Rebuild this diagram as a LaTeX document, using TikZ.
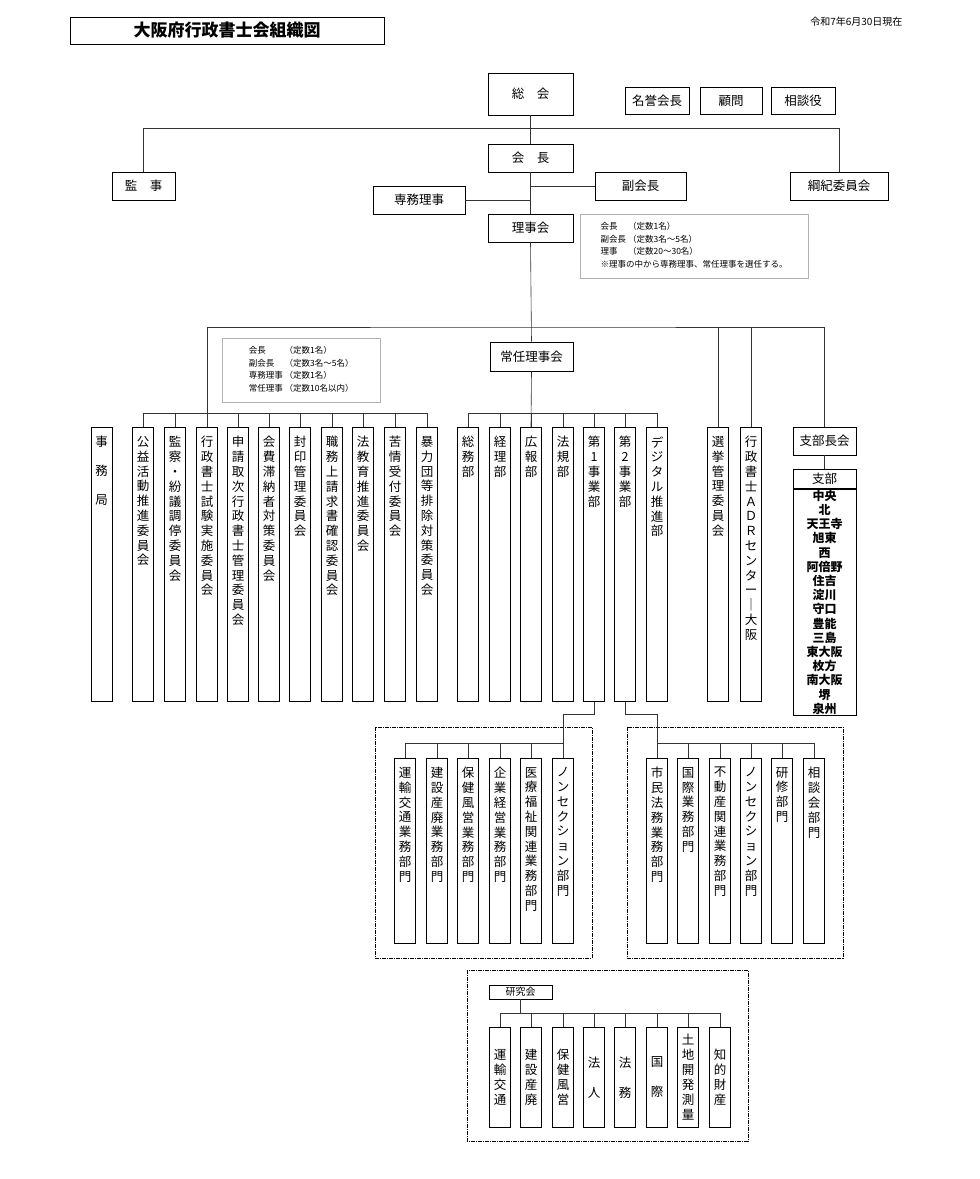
\documentclass[tikz,border=0pt]{standalone}
\usepackage{fontspec}
\setmainfont{Noto Sans CJK JP}
\usetikzlibrary{positioning}
\makeatletter
% vertical text, one character per line
\newcommand\vtext[2]{\edef\vt@s{#2}\def\vt@go{\@tfor\ch:=}%
  \vbox{\baselineskip=#1pt\lineskip=0pt\lineskiplimit=-20pt
    \expandafter\vt@go\vt@s\do{\hbox to 14pt{\hss\ch\hss}}}}
\makeatother
\newcommand\vcol[2]{\vbox to #1pt{\vskip 9pt\vtext{14.8}{#2}\vfill}}
\tikzset{
  box/.style={draw, line width=0.7pt, inner sep=0pt, minimum height=28,
    font=\fontsize{12.5}{14}\selectfont},
  col/.style={draw, line width=0.7pt, inner sep=0pt, minimum width=21,
    anchor=north, font=\fontsize{12.5}{15}\selectfont},
  note/.style={draw=black!30, inner sep=5pt, anchor=north west, align=left,
    font=\fontsize{8.5}{12.5}\selectfont},
  grp/.style={draw, line width=0.9pt, dash pattern=on 4pt off 1pt on 1pt off 1pt},
  wire/.style={line width=0.6pt, black!80}
}
\begin{document}
\begin{tikzpicture}[x=1pt,y=-1pt]
  \useasboundingbox (0,0) rectangle (980,1179);
  \node[draw, line width=0.8pt, minimum width=314, minimum height=27] (title) at (227,30.5)
    {\fontsize{17}{20}\selectfont\bfseries 大阪府行政書士会組織図};
  \node[anchor=east, font=\fontsize{10}{12}\selectfont] (date) at (906,22) {令和7年6月30日現在};

  % top of the chart
  \node[box, minimum width=85, minimum height=42] (sokai) at (530.5,94) {総\hspace{1em}会};
  \node[box, minimum width=64, minimum height=27] (meiyo) at (657,101) {名誉会長};
  \node[box, minimum width=62, minimum height=27] (komon) at (731,101) {顧問};
  \node[box, minimum width=64, minimum height=27] (sodan) at (803,101) {相談役};
  \node[box, minimum width=85] (kaicho) at (530.5,158) {会\hspace{1em}長};
  \node[box, minimum width=63] (kanji) at (143.5,186) {監\hspace{1em}事};
  \node[box, minimum width=98] (koki) at (839,186) {綱紀委員会};
  \node[box, minimum width=91] (fuku) at (640.5,186) {副会長};
  \node[box, minimum width=92] (senmu) at (419,200) {専務理事};
  \node[box, minimum width=85] (rijikai) at (530.5,228) {理事会};
  \node[note, minimum width=228, minimum height=64] (note1) at (580,214)
    {\begin{tabular}{@{}l@{\ }l@{}}
      会長 & （定数1名）\\ 副会長 & （定数3名～5名）\\ 理事 & （定数20～30名）\\
      \multicolumn{2}{@{}l@{}}{※理事の中から専務理事、常任理事を選任する。}
    \end{tabular}};
  \node[box, minimum width=83, minimum height=29] (jonin) at (531.5,356.5) {常任理事会};
  \node[note, minimum width=158, minimum height=64] (note2) at (222,338)
    {\begin{tabular}{@{}l@{\ }l@{}}
      会長 & （定数1名）\\ 副会長 & （定数3名～5名）\\
      専務理事 & （定数1名）\\ 常任理事 & （定数10名以内）
    \end{tabular}};

  \draw[wire] (sokai.south) -- (kaicho.north);
  \draw[wire] (kanji.north) -- ++(0,-43) -| (koki.north);
  \draw[wire] (kaicho.south) -- (rijikai.north);
  \draw[wire] (fuku.west) -- (kaicho.south |- fuku.west);
  \draw[wire] (senmu.east) -- (kaicho.south |- senmu.east);
  \draw[wire] (rijikai.south) -- (jonin.north);

  % committees
  \node[col] (jim) at (101.5,427) {\vbox to 274pt{\vskip 9pt\vtext{29}{事務局}\vfill}};
  \foreach \x/\lab [count=\i] in {143/公益活動推進委員会, 175/監察・紛議調停委員会,
      207/行政書士試験実施委員会, 238/申請取次行政書士管理委員会, 269/会費滞納者対策委員会,
      300/封印管理委員会, 332/職務上請求書確認委員会, 363/法教育推進委員会,
      395/苦情受付委員会, 427/暴力団等排除対策委員会}
    \node[col] (L\i) at (\x,427) {\vcol{274}{\lab}};
  \foreach \x/\lab [count=\i] in {468/総務部, 500/経理部, 531/広報部, 563/法規部,
      594/第1事業部, 625/第2事業部, 657/デジタル推進部}
    \node[col] (S\i) at (\x,427) {\vcol{274}{\lab}};
  \node[col] (senkyo) at (718,427) {\vcol{274}{選挙管理委員会}};
  \node[col] (adr) at (751,427) {\vcol{274}{行政書士ＡＤＲセンター｜大阪}};
  \node[box, minimum width=63] (shibucho) at (824.5,441) {支部長会};
  \node[draw, line width=0.7pt, minimum width=63, minimum height=19, inner sep=0pt,
    anchor=north, font=\fontsize{12.5}{14}\selectfont] (shibuhd) at (824.5,469) {支部};
  \node[draw, line width=0.7pt, minimum width=63, inner xsep=0pt, inner ysep=1pt,
    below=0pt of shibuhd, align=center, font=\fontsize{12}{14.2}\selectfont\bfseries] (shibu)
    {中央\\北\\天王寺\\旭東\\西\\阿倍野\\住吉\\淀川\\守口\\豊能\\三島\\東大阪\\枚方\\南大阪\\堺\\泉州};

  \draw[wire] (L3.north) |- (530,327) -| (shibucho.north);
  \draw[wire] (senkyo.north) -- (senkyo.north |- 0,327);
  \draw[wire] (adr.north) -- (adr.north |- 0,327);
  \draw[wire] (shibucho.south) -- (shibuhd.north);
  \draw[wire] (L1.north) -- ++(0,-14) -| (L10.north);
  \foreach \i in {2,...,9} \draw[wire] (L\i.north) -- ++(0,-14);
  \draw[wire] (jonin.south) -- (S3.north);
  \draw[wire] (S1.north) -- ++(0,-14) -| (S7.north);
  \foreach \i in {2,...,6} \draw[wire] (S\i.north) -- ++(0,-14);

  % sections of the two business departments
  \draw[grp] (375,727) rectangle (592,958);
  \draw[grp] (627,727) rectangle (843,958);
  \foreach \x/\lab [count=\i] in {405/運輸交通業務部門, 437/建設産廃業務部門, 468/保健風営業務部門,
      500/企業経営業務部門, 531/医療福祉関連業務部門, 563/ノンセクション部門}
    \node[col] (A\i) at (\x,758) {\vcol{185}{\lab}};
  \foreach \x/\lab [count=\i] in {657/市民法務業務部門, 688/国際業務部門, 720/不動産関連業務部門,
      751/ノンセクション部門, 782/研修部門, 814/相談会部門}
    \node[col] (B\i) at (\x,758) {\vcol{185}{\lab}};
  \draw[wire] (S5.south) -- ++(0,13) -| (A6.north);
  \draw[wire] (A1.north) -- ++(0,-15) -| (A6.north);
  \foreach \i in {2,...,5} \draw[wire] (A\i.north) -- ++(0,-15);
  \draw[wire] (S6.south) -- ++(0,13) -| (B1.north);
  \draw[wire] (B1.north) -- ++(0,-15) -| (B6.north);
  \foreach \i in {2,...,5} \draw[wire] (B\i.north) -- ++(0,-15);

  % study groups
  \draw[grp] (467,970) rectangle (748,1141);
  \node[box, minimum width=63, minimum height=14, font=\fontsize{10}{12}\selectfont] (kenkyu) at (520.5,992) {研究会};
  \foreach \x/\p/\lab [count=\i] in {500/15/運輸交通, 531/15/建設産廃, 563/15/保健風営, 594/30/法人,
      625/30/法務, 657/30/国際, 688/15/土地開発測量, 720/15/知的財産}
    \node[col, minimum height=100] (C\i) at (\x,1027) {\vtext{\p}{\lab}};
  \draw[wire] (kenkyu.south) -- ++(0,14);
  \draw[wire] (C1.north) -- ++(0,-14) -| (C8.north);
  \foreach \i in {2,...,7} \draw[wire] (C\i.north) -- ++(0,-14);
\end{tikzpicture}
\end{document}
